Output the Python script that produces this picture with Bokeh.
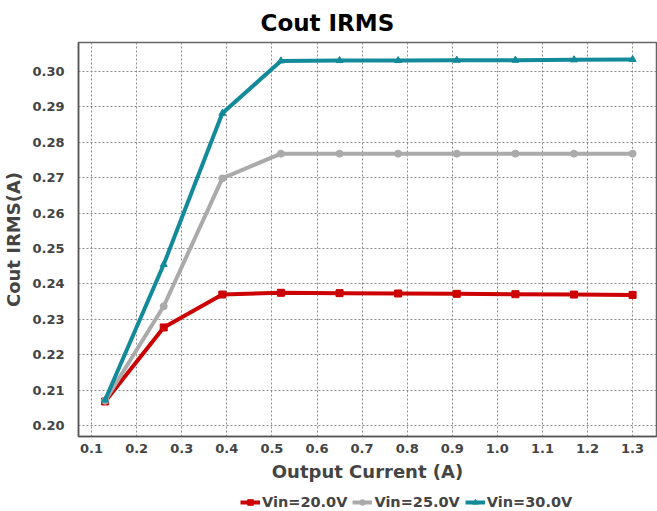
from bokeh.plotting import figure
from bokeh.models import Legend, LegendItem, FixedTicker, NumeralTickFormatter, Range1d
from bokeh.layouts import column
from bokeh.embed import file_html
from bokeh.resources import INLINE

x_current = [0.13, 0.26, 0.39, 0.52, 0.65, 0.78, 0.91, 1.04, 1.17, 1.30]
vin20 = [0.2068, 0.2277, 0.2370, 0.2375, 0.2374, 0.2373, 0.2372, 0.2371, 0.2370, 0.2369]
vin25 = [0.2070, 0.2337, 0.2698, 0.2768, 0.2768, 0.2768, 0.2768, 0.2768, 0.2768, 0.2768]
vin30 = [0.2072, 0.2455, 0.2882, 0.3030, 0.3031, 0.3031, 0.3032, 0.3032, 0.3033, 0.3034]
series_names = ["Vin=20.0V", "Vin=25.0V", "Vin=30.0V"]
x_ticks = [0.1, 0.2, 0.3, 0.4, 0.5, 0.6, 0.7, 0.8, 0.9, 1.0, 1.1, 1.2, 1.3]
y_ticks = [0.20, 0.21, 0.22, 0.23, 0.24, 0.25, 0.26, 0.27, 0.28, 0.29, 0.30]

FONT = "DejaVu Sans"
TXT = "#444444"
colors = ["#cc0000", "#aaaaaa", "#138a9a"]
markers = ["square", "circle", "triangle"]
series = [vin20, vin25, vin30]

p = figure(frame_width=578, frame_height=394, output_backend="svg", toolbar_location=None,
           x_range=Range1d(0.071, 1.353), y_range=Range1d(0.1969, 0.3082),
           min_border_left=78, min_border_right=1, min_border_top=42, min_border_bottom=55)

p.title.text = "Cout IRMS"
p.title.align = "left"
p.title.offset = 182
p.title.standoff = 14
p.title.text_font = FONT
p.title.text_font_size = "23px"
p.title.text_font_style = "bold"
p.title.text_color = "#000000"

for ys, c, mk in zip(series, colors, markers):
    p.line(x_current, ys, line_color=c, line_width=4)
    p.scatter(x_current, ys, marker=mk, size=7, fill_color=c, line_color=c)

p.xaxis.ticker = FixedTicker(ticks=x_ticks)
p.yaxis.ticker = FixedTicker(ticks=y_ticks)
p.xaxis.formatter = NumeralTickFormatter(format="0.0")
p.yaxis.formatter = NumeralTickFormatter(format="0.00")
p.xaxis.axis_label = "Output Current (A)"
p.yaxis.axis_label = "Cout IRMS(A)"
for ax in [p.xaxis, p.yaxis]:
    ax.axis_label_text_font = FONT
    ax.axis_label_text_font_size = "18px"
    ax.axis_label_text_font_style = "bold"
    ax.axis_label_text_color = TXT
    ax.major_label_text_font = FONT
    ax.major_label_text_font_size = "13px"
    ax.major_label_text_font_style = "bold"
    ax.major_label_text_color = TXT
    ax.axis_line_color = "#555555"
    ax.axis_line_width = 1.5
    ax.major_tick_line_color = None
    ax.minor_tick_line_color = None
    ax.axis_label_standoff = 5
p.xaxis.major_label_standoff = 1
p.yaxis.major_label_standoff = 8

p.grid.grid_line_color = "#888888"
p.grid.grid_line_dash = "2 2"
p.grid.grid_line_width = 1
p.outline_line_color = "#666666"
p.outline_line_width = 1.5

# legend strip below the chart (series drawn out of view, used only for legend glyphs)
lg = figure(width=657, height=20, output_backend="svg", toolbar_location=None,
            x_range=Range1d(100, 101), y_range=Range1d(100, 101),
            x_axis_type=None, y_axis_type=None,
            min_border_left=0, min_border_right=0, min_border_top=0, min_border_bottom=0)
lg.outline_line_color = None
lg.grid.visible = False
items = []
for ys, c, name, mk in zip(series, colors, series_names, markers):
    l = lg.line(x_current, ys, line_color=c, line_width=4)
    s = lg.scatter(x_current, ys, marker=mk, size=7, fill_color=c, line_color=c)
    items.append(LegendItem(label=name, renderers=[l, s]))
legend = Legend(items=items, orientation="horizontal", location=(162, 1),
                label_text_font=FONT, label_text_font_size="14.5px", label_text_font_style="bold",
                label_text_color=TXT, background_fill_alpha=0, border_line_alpha=0,
                glyph_width=20, glyph_height=14, spacing=5, padding=0, margin=0, label_standoff=2)
lg.add_layout(legend, "center")

layout = column(p, lg, spacing=0)
open("out.html", "w").write(file_html(layout, INLINE))
